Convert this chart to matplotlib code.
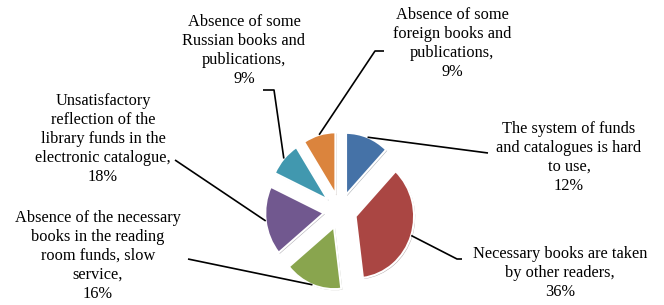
import numpy as np
import matplotlib.pyplot as plt
import matplotlib.patheffects as pe

# slices, clockwise from 12 o'clock
labels = [
    "The system of funds\nand catalogues is hard\nto use,\n12%",
    "Necessary books are taken\nby other readers,\n36%",
    "Absence of the necessary\nbooks in the reading\nroom funds, slow\nservice,\n16%",
    "Unsatisfactory\nreflection of the\nlibrary funds in the\nelectronic catalogue,\n18%",
    "Absence of some\nRussian books and\npublications,\n9%",
    "Absence of some\nforeign books and\npublications,\n9%",
]
values = [12, 36, 16, 18, 9, 9]
colors = ["#4572A7", "#AA4643", "#89A54E", "#71588F", "#4198AF", "#DB843D"]

# layout (pixels in the 664x305 picture)
W, H = 664, 305
CX, CY = 340, 211
RX, RY = 58.5, 62.0
text_pos = [(569, 157), (560, 273), (98, 256), (103, 139), (244, 50), (452, 43)]
elbow = [(488, 153), (457, 259), (188, 259), (175, 160), (274, 90), (375, 51)]
tick = [None, (462, 259), None, None, (263, 90), (384, 51)]


def px(x, y):
    return (x - CX) / RX, (CY - y) / RY


plt.rcParams['font.family'] = ['Liberation Serif', 'DejaVu Serif']

fig = plt.figure(figsize=(W / 100, H / 100), dpi=100)
ax = fig.add_axes([0, 0, 1, 1])

wedges, _ = ax.pie(values, colors=colors, startangle=90, counterclock=False,
                   explode=[0.28] * len(values),
                   wedgeprops=dict(edgecolor="white", linewidth=1.5))
for w in wedges:
    w.set_path_effects([pe.SimplePatchShadow(offset=(0.8, -0.8), alpha=0.35),
                        pe.Normal()])

ax.set_aspect('auto')
x0, y0 = px(0, H)
x1, y1 = px(W, 0)
ax.set_xlim(x0, x1)
ax.set_ylim(y0, y1)
ax.axis('off')

for i, w in enumerate(wedges):
    mid = np.deg2rad((w.theta1 + w.theta2) / 2)
    sx = w.center[0] + w.r * np.cos(mid)
    sy = w.center[1] + w.r * np.sin(mid)
    ex, ey = px(*elbow[i])
    xs, ys = [sx, ex], [sy, ey]
    if tick[i] is not None:
        tx, ty = px(*tick[i])
        xs.append(tx)
        ys.append(ty)
    ax.plot(xs, ys, color="black", lw=1.2, solid_capstyle='butt')
    lx, ly = px(*text_pos[i])
    ax.text(lx, ly, labels[i], ha='center', va='center', multialignment='center',
            fontsize=11.8, linespacing=1.25, color="black")

fig.savefig("out.png", dpi=100, facecolor="white")
